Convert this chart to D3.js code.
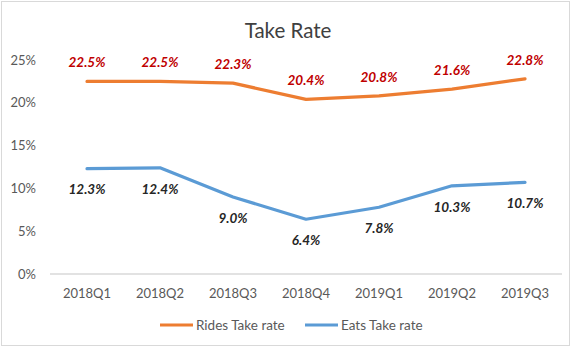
<!DOCTYPE html>
<html>
<head>
<meta charset="utf-8">
<script src="https://cdn.jsdelivr.net/npm/d3@7"></script>
<style>
  html, body { margin: 0; padding: 0; background: #fff; }
  svg { display: block; }
  text { font-family: Lato, "Noto Sans", sans-serif; }
</style>
</head>
<body>
<div id="chart"></div>
<script>
// Quarterly take rates (%)
const quarters = ["2018Q1", "2018Q2", "2018Q3", "2018Q4", "2019Q1", "2019Q2", "2019Q3"];
const ridesTakeRate = [22.5, 22.5, 22.3, 20.4, 20.8, 21.6, 22.8];
const eatsTakeRate = [12.3, 12.4, 9.0, 6.4, 7.8, 10.3, 10.7];
const yTicks = [0, 5, 10, 15, 20, 25];
const seriesNames = ["Rides Take rate", "Eats Take rate"];

const W = 580, H = 348;
const svg = d3.select("#chart").append("svg").attr("width", W).attr("height", H);

// chart frame
svg.append("rect").attr("x", 1.5).attr("y", 1.5).attr("width", 568).attr("height", 344)
  .attr("fill", "#fff").attr("stroke", "#d9d9d9").attr("stroke-width", 1);

const x = d3.scaleBand().domain(quarters).range([50.5, 561.5]);
const y = d3.scaleLinear().domain([0, 25]).range([274, 60]);

// title
svg.append("text").attr("x", 288).attr("y", 38).attr("text-anchor", "middle")
  .attr("font-size", 20.5).attr("fill", "#404040").text("Take Rate");

// y axis labels
const yAxis = d3.axisLeft(y).tickValues(yTicks).tickFormat(d => d + "%").tickSize(0).tickPadding(0);
const gy = svg.append("g").attr("transform", "translate(36,0)").call(yAxis);
gy.select(".domain").remove();
gy.selectAll("text").attr("font-size", 13).attr("fill", "#595959").attr("font-family", "Lato, sans-serif");

// baseline
svg.append("line").attr("x1", 50).attr("x2", 562).attr("y1", y(0)).attr("y2", y(0))
  .attr("stroke", "#d9d9d9").attr("stroke-width", 1.5);

// x axis labels
const xAxis = d3.axisBottom(x).tickSize(0).tickPadding(0);
const gx = svg.append("g").attr("transform", `translate(0,${y(0) + 24})`).call(xAxis);
gx.select(".domain").remove();
gx.selectAll("text").attr("font-size", 13).attr("fill", "#595959").attr("font-family", "Lato, sans-serif")
  .attr("dy", "0");

const cx = d => x(d) + x.bandwidth() / 2;
const series = [
  { name: seriesNames[0], values: ridesTakeRate, color: "#ED7D31", labelColor: "#C00000", dy: -19 },
  { name: seriesNames[1], values: eatsTakeRate, color: "#5B9BD5", labelColor: "#262626", dy: 21 }
];

const line = d3.line().x((d, i) => cx(quarters[i])).y(d => y(d));

series.forEach(s => {
  svg.append("path").datum(s.values).attr("d", line)
    .attr("fill", "none").attr("stroke", s.color).attr("stroke-width", 3.2)
    .attr("stroke-linejoin", "round").attr("stroke-linecap", "round");
  svg.append("g").selectAll("text").data(s.values).join("text")
    .attr("x", (d, i) => cx(quarters[i]))
    .attr("y", d => y(d) + s.dy)
    .attr("dy", "0.35em")
    .attr("text-anchor", "middle")
    .attr("font-size", 13.5).attr("font-weight", "bold").attr("font-style", "italic")
    .attr("fill", s.labelColor)
    .text(d => d.toFixed(1) + "%");
});

// legend
const legendItems = [{ x: 160, s: series[0] }, { x: 305, s: series[1] }];
legendItems.forEach(li => {
  svg.append("line").attr("x1", li.x).attr("x2", li.x + 33).attr("y1", 325).attr("y2", 325)
    .attr("stroke", li.s.color).attr("stroke-width", 3.2);
  svg.append("text").attr("x", li.x + 36).attr("y", 325).attr("dy", "0.35em")
    .attr("font-size", 13.5).attr("fill", "#595959").text(li.s.name);
});
</script>
</body>
</html>
